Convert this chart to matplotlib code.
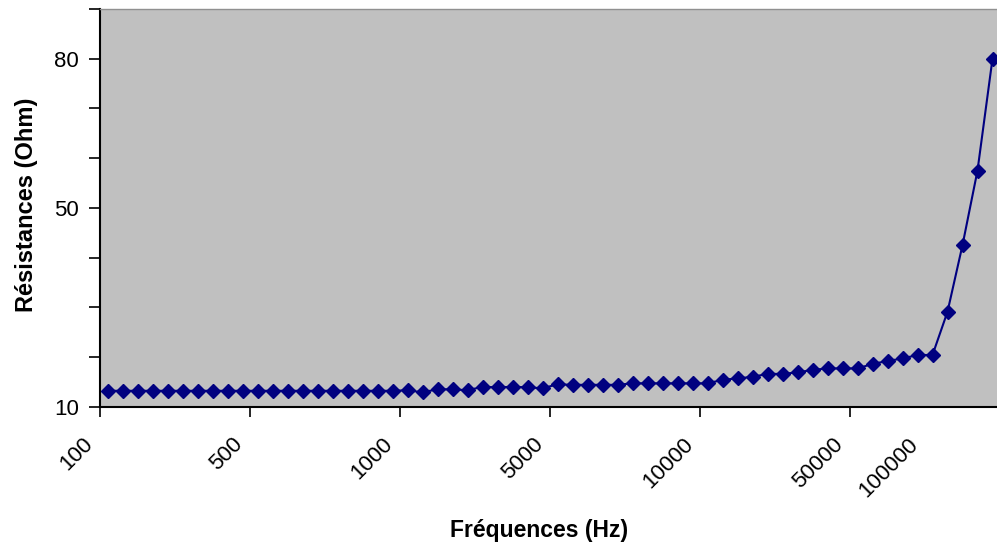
import matplotlib
matplotlib.use("Agg")
import matplotlib.pyplot as plt
import numpy as np

plt.rcParams['font.family'] = ['Liberation Sans', 'DejaVu Sans']

# Measured resistance (Ohm) for each frequency step, in acquisition order
resistance = [
    13.2, 13.2, 13.2, 13.2, 13.2, 13.2, 13.2, 13.2, 13.2, 13.2,
    13.2, 13.2, 13.2, 13.2, 13.2, 13.2, 13.2, 13.2, 13.2, 13.2,
    13.3, 12.9, 13.5, 13.5, 13.3, 14.0, 13.9, 14.0, 13.9, 13.7,
    14.5, 14.4, 14.4, 14.4, 14.4, 14.7, 14.7, 14.7, 14.7, 14.7,
    14.7, 15.4, 15.7, 16.0, 16.6, 16.6, 16.9, 17.4, 17.7, 17.7,
    17.7, 18.6, 19.2, 19.7, 20.4, 20.4, 29.1, 42.5, 57.5, 80.0,
]

# Frequency labels and the category index where each one sits
freq_labels = ["100", "500", "1000", "5000", "10000", "50000", "100000"]
freq_label_idx = [0, 10, 20, 30, 40, 50, 55]

# Resistance axis: ticks every 10, labelled only at a few values
y_ticks = [10, 20, 30, 40, 50, 60, 70, 80, 90]
y_tick_labels = ["10", "", "", "", "50", "", "", "80", ""]

W, H = 997, 552
fig = plt.figure(figsize=(W / 100, H / 100), dpi=100)
ax_left, ax_right, ax_bottom, ax_top = 100, 1000, 406.7, 9
ax = fig.add_axes([ax_left / W, 1 - ax_bottom / H,
                   (ax_right - ax_left) / W, (ax_bottom - ax_top) / H])
ax.set_facecolor('#c0c0c0')

n = len(resistance)
x = np.arange(n) + 0.5
ax.plot(x, resistance, color='#000080', linewidth=1.5,
        marker='D', markersize=7.5, markerfacecolor='#000080',
        markeredgecolor='#000080', zorder=3)

ax.set_xlim(0, n)
ax.set_ylim(10, 90)

# x ticks: marks every 10 categories, labels at the frequency positions
ax.set_xticks([0, 10, 20, 30, 40, 50, 60])
ax.set_xticklabels([])
ax.tick_params(axis='x', direction='out', length=7, width=1.2, color='black')
for idx, lab in zip(freq_label_idx, freq_labels):
    ax.annotate(lab, xy=(idx, 10), xycoords='data',
                xytext=(-2, -19.5), textcoords='offset points',
                rotation=45, ha='right', va='top', fontsize=16,
                annotation_clip=False)

ax.set_yticks(y_ticks)
ax.set_yticklabels(y_tick_labels, fontsize=16)
ax.tick_params(axis='y', direction='out', length=8, width=1.2, color='black', pad=7)

for side in ('left', 'bottom'):
    ax.spines[side].set_color('black')
    ax.spines[side].set_linewidth(1.5)
ax.spines['top'].set_color('#909090')
ax.spines['top'].set_linewidth(1.0)
ax.spines['right'].set_visible(False)

fig.text(539 / W, 1 - 530 / H, "Fréquences (Hz)", ha='center', va='center',
         fontsize=16.5, fontweight='bold')
fig.text(26 / W, 1 - 205 / H, "Résistances (Ohm)", ha='center', va='center',
         rotation=90, fontsize=17, fontweight='bold')

fig.savefig("out.png", dpi=100, facecolor='white')
